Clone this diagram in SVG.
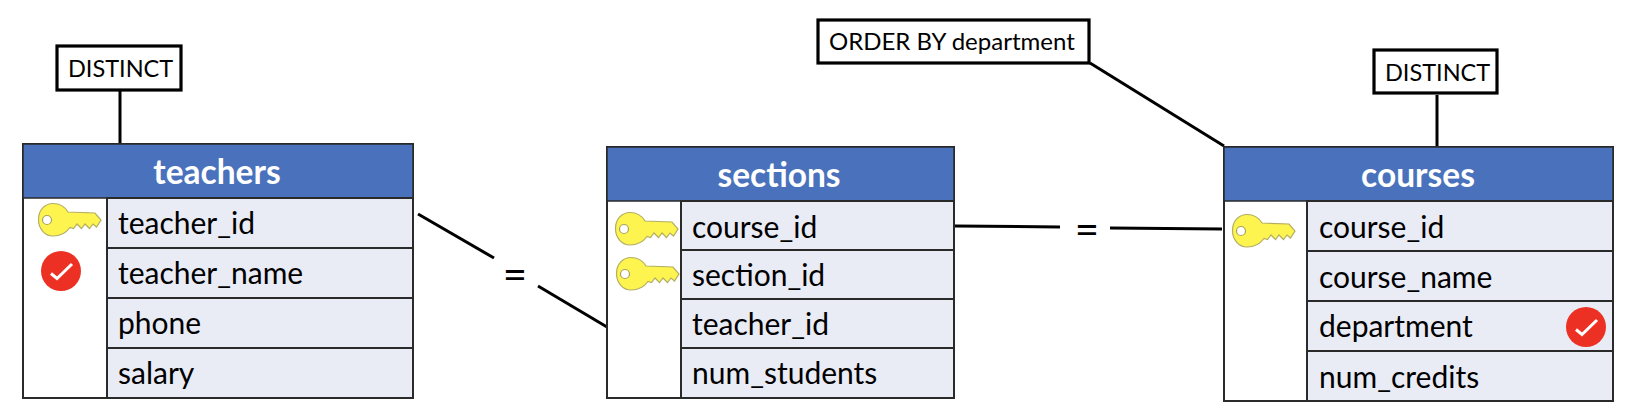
<svg xmlns="http://www.w3.org/2000/svg" width="1630" height="416" viewBox="0 0 1630 416">
<style>
text{font-family:Lato,"Open Sans",sans-serif;fill:#000}
.f{font-size:30px}
.h{font-size:33.5px;font-weight:700;fill:#fff;text-anchor:middle}
.n{font-size:24px}
.d{font-size:23.5px}
.b{fill:#fff;stroke:#000;stroke-width:3.2}
.o{fill:#fff;stroke:#2a2a2a;stroke-width:2}
.hd{fill:#4a72bc;stroke:#2a2a2a;stroke-width:1.5}
.r{fill:#e9ebf5;stroke:#2a2a2a;stroke-width:2}
.c{fill:none;stroke:#000;stroke-width:3}
.eq{font-size:42px;text-anchor:middle}
</style>
<defs>
<g id="key">
<path d="M0.5 16.500C0.5 7 7 0.500 15 0.500C22 0.500 27 4 30 9L57 10L63 17L58.500 24L55 21L51.500 25.500L47 21L43.500 25.500L39 21L35.500 25.500L32 24.500C28 30 22 33 15 33C7 33 0.500 26 0.500 16.500Z" fill="#fdf44f" stroke="#b3ae62" stroke-width="1.200"/>
<circle cx="9" cy="17" r="4.500" fill="#fff" stroke="#a8a35a" stroke-width="1.200"/>
</g>
<g id="chk">
<circle r="20" fill="#ec3124"/>
<path d="M-10 2.500L-4 7.500L11 -7" fill="none" stroke="#fff" stroke-width="3"/>
</g>
</defs>
<g id="connectors">
<path class="c" d="M120 90V144"/>
<path class="c" d="M1437 95V149"/>
<path class="c" d="M1090 63L1224 146"/>
<path class="c" d="M418 214L494 258"/>
<path class="c" d="M538 286L607 327"/>
<path class="c" d="M955 226L1060 227"/>
<path class="c" d="M1110 228L1222 229"/>
<text class="eq" x="515" y="289">=</text>
<text class="eq" x="1087" y="244">=</text>
</g>
<g id="teachers">
<rect class="o" x="23" y="144" width="390" height="254"/>
<rect class="hd" x="23" y="144" width="390" height="54"/>
<text class="h" x="217" y="184">teachers</text>
<rect class="r" x="107" y="198" width="306" height="50"/>
<rect class="r" x="107" y="248" width="306" height="50"/>
<rect class="r" x="107" y="298" width="306" height="50"/>
<rect class="r" x="107" y="348" width="306" height="50"/>
<text class="f" x="118" y="234">teacher_id</text>
<text class="f" x="118" y="284">teacher_name</text>
<text class="f" x="118" y="334">phone</text>
<text class="f" x="118" y="384">salary</text>
<use href="#key" x="38" y="203"/>
<use href="#chk" x="61" y="271"/>
</g>
<g id="sections">
<rect class="o" x="607" y="147" width="347" height="251"/>
<rect class="hd" x="607" y="147" width="347" height="54"/>
<text class="h" x="779" y="187">sections</text>
<rect class="r" x="681" y="201" width="273" height="49"/>
<rect class="r" x="681" y="250" width="273" height="49"/>
<rect class="r" x="681" y="299" width="273" height="49"/>
<rect class="r" x="681" y="348" width="273" height="50"/>
<text class="f" x="692" y="238">course_id</text>
<text class="f" x="692" y="286">section_id</text>
<text class="f" x="692" y="335">teacher_id</text>
<text class="f" x="692" y="384">num_students</text>
<use href="#key" x="615" y="212"/>
<use href="#key" x="616" y="257"/>
</g>
<g id="courses">
<rect class="o" x="1224" y="147" width="389" height="254"/>
<rect class="hd" x="1224" y="147" width="389" height="54"/>
<text class="h" x="1418" y="187">courses</text>
<rect class="r" x="1307" y="201" width="306" height="50"/>
<rect class="r" x="1307" y="251" width="306" height="50"/>
<rect class="r" x="1307" y="301" width="306" height="50"/>
<rect class="r" x="1307" y="351" width="306" height="50"/>
<text class="f" x="1319" y="238">course_id</text>
<text class="f" x="1319" y="288">course_name</text>
<text class="f" x="1319" y="337">department</text>
<text class="f" x="1319" y="388">num_credits</text>
<use href="#key" x="1232" y="214"/>
<use href="#chk" x="1586" y="327"/>
</g>
<g id="distinct-teachers">
<rect class="b" x="57" y="46" width="124" height="44"/>
<text class="d" x="68" y="77">DISTINCT</text>
</g>
<g id="order-by">
<rect class="b" x="818" y="20" width="271" height="43"/>
<text class="n" x="829" y="50">ORDER BY department</text>
</g>
<g id="distinct-courses">
<rect class="b" x="1374" y="50" width="123" height="43"/>
<text class="d" x="1385" y="81">DISTINCT</text>
</g>
</svg>
